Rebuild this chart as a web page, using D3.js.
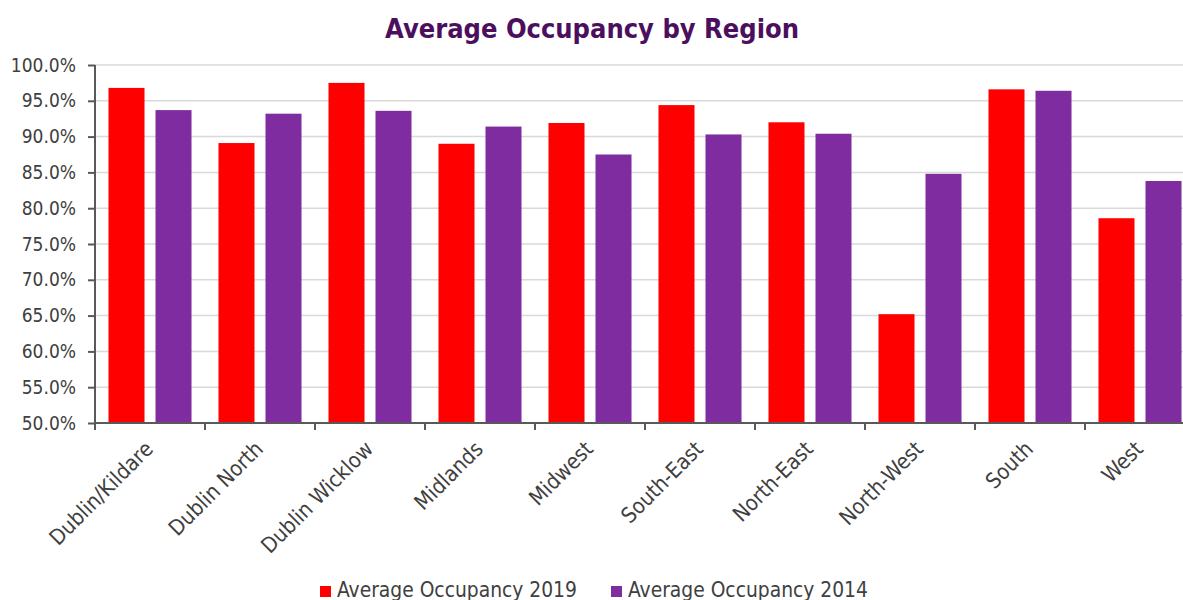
<!DOCTYPE html>
<html>
<head>
<meta charset="utf-8">
<script src="https://cdn.jsdelivr.net/npm/d3@7"></script>
<style>
  body { margin: 0; background: #fff; overflow: hidden; }
  text { font-family: "DejaVu Sans Condensed", "DejaVu Sans", sans-serif; font-stretch: condensed; }
</style>
</head>
<body>
<div id="chart"></div>
<script>
let regions = ['Dublin/Kildare', 'Dublin North', 'Dublin Wicklow', 'Midlands', 'Midwest',
    'South-East', 'North-East', 'North-West', 'South', 'West'];
let occ2019 = [96.8, 89.1, 97.5, 89.0, 91.9, 94.4, 92.0, 65.2, 96.6, 78.6];
let occ2014 = [93.7, 93.2, 93.6, 91.4, 87.5, 90.3, 90.4, 84.8, 96.4, 83.8];
let yTicks = [50, 55, 60, 65, 70, 75, 80, 85, 90, 95, 100];
let seriesNames = ['Average Occupancy 2019', 'Average Occupancy 2014'];
let colors = ['#ff0000', '#7f2ca0'];

let width = 1183;
let height = 600;
let margin = { top: 65, left: 95, bottom: 177, right: -12 };

let svg = d3.select('#chart')
    .append('svg')
    .attr('width', width)
    .attr('height', height);

let x = d3.scaleBand()
    .domain(regions)
    .range([margin.left, width - margin.right]);

let x1 = d3.scaleBand()
    .domain([0, 1])
    .range([0, x.bandwidth()])
    .paddingInner(0.234)
    .paddingOuter(0.287);

let y = d3.scaleLinear()
    .domain([50, 100])
    .range([height - margin.bottom, margin.top]);

// gridlines
svg.append('g')
    .selectAll('line')
    .data(yTicks)
    .enter()
    .append('line')
    .attr('x1', margin.left)
    .attr('x2', width)
    .attr('y1', d => y(d))
    .attr('y2', d => y(d))
    .style('stroke', '#d9d9d9')
    .style('stroke-width', 1.5);

// bars
let groups = svg.append('g')
    .selectAll('g')
    .data(regions)
    .enter()
    .append('g')
    .attr('transform', d => 'translate(' + x(d) + ',0)');

groups.selectAll('rect')
    .data((d, i) => [occ2019[i], occ2014[i]])
    .enter()
    .append('rect')
    .attr('x', (d, j) => x1(j))
    .attr('width', x1.bandwidth())
    .attr('y', d => y(d))
    .attr('height', d => y(50) - y(d))
    .attr('fill', (d, j) => colors[j]);

// y axis
let yAxis = svg.append('g')
    .attr('transform', 'translate(' + margin.left + ',0)')
    .call(d3.axisLeft(y).tickValues(yTicks).tickSize(7).tickPadding(12)
        .tickFormat(d => d.toFixed(1) + '%'));
yAxis.select('.domain').style('stroke', '#595959').style('stroke-width', 2)
    .attr('d', 'M0,' + y(100) + 'V' + y(50));
yAxis.selectAll('.tick line').style('stroke', '#595959').style('stroke-width', 2);
yAxis.selectAll('.tick text').style('font-size', '19px').style('fill', '#404040');

// x axis
let xAxisG = svg.append('g')
    .attr('transform', 'translate(0,' + y(50) + ')');
xAxisG.append('line')
    .attr('x1', margin.left)
    .attr('x2', width)
    .style('stroke', '#595959')
    .style('stroke-width', 2);
xAxisG.selectAll('.xtick')
    .data(regions)
    .enter()
    .append('line')
    .attr('class', 'xtick')
    .attr('x1', d => x(d))
    .attr('x2', d => x(d))
    .attr('y1', 0)
    .attr('y2', 7)
    .style('stroke', '#595959')
    .style('stroke-width', 2);
xAxisG.selectAll('.xlabel')
    .data(regions)
    .enter()
    .append('text')
    .attr('class', 'xlabel')
    .attr('transform', d => 'translate(' + (x(d) + x.bandwidth() / 2 - 1) + ',22) rotate(-45)')
    .attr('text-anchor', 'end')
    .attr('dy', '0.35em')
    .style('font-size', '21.5px')
    .style('fill', '#404040')
    .text(d => d);

// title
svg.append('text')
    .attr('x', 592)
    .attr('y', 38)
    .attr('text-anchor', 'middle')
    .style('font-size', '27px')
    .style('font-weight', 'bold')
    .style('fill', '#4b0f5e')
    .text('Average Occupancy by Region');

// legend
let legendX = [320, 611];
let legend = svg.append('g')
    .selectAll('g')
    .data(seriesNames)
    .enter()
    .append('g')
    .attr('transform', (d, i) => 'translate(' + legendX[i] + ',585)');
legend.append('rect')
    .attr('width', 11)
    .attr('height', 11)
    .attr('y', 1)
    .attr('fill', (d, i) => colors[i]);
legend.append('text')
    .attr('x', 17)
    .attr('y', 12)
    .style('font-size', '20.8px')
    .style('fill', '#404040')
    .text(d => d);
</script>
</body>
</html>
